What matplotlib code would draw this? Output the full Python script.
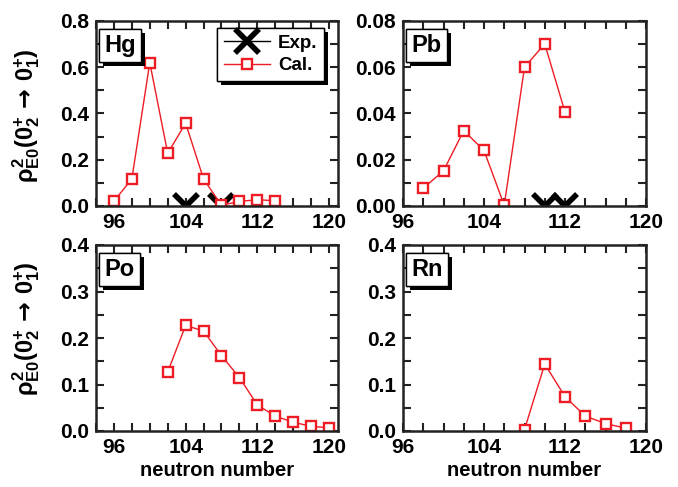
import matplotlib
matplotlib.use("Agg")
import matplotlib.pyplot as plt
from matplotlib import patheffects
from matplotlib.ticker import MultipleLocator, FormatStrFormatter

plt.rcParams['font.family'] = ['Liberation Sans', 'DejaVu Sans']
plt.rcParams['font.weight'] = 'bold'
plt.rcParams['mathtext.fontset'] = 'custom'
plt.rcParams['mathtext.rm'] = 'Liberation Sans:bold'
plt.rcParams['mathtext.it'] = 'Liberation Sans:bold'
plt.rcParams['mathtext.bf'] = 'Liberation Sans:bold'
plt.rcParams['mathtext.sf'] = 'DejaVu Sans'

# Hg
hg_n = [96, 98, 100, 102, 104, 106, 108, 110, 112, 114]
hg_cal = [0.021, 0.117, 0.620, 0.228, 0.358, 0.117, 0.003, 0.020, 0.027, 0.023]
hg_exp_n = [104, 108]
hg_exp = [0.0, 0.0]

# Pb
pb_n = [98, 100, 102, 104, 106, 108, 110, 112]
pb_cal = [0.0077, 0.0152, 0.0326, 0.0240, 0.0003, 0.0600, 0.0701, 0.0406]
pb_exp_n = [110, 112]
pb_exp = [0.0, 0.0]

# Po
po_n = [102, 104, 106, 108, 110, 112, 114, 116, 118, 120]
po_cal = [0.127, 0.227, 0.215, 0.162, 0.115, 0.056, 0.032, 0.019, 0.010, 0.007]

# Rn
rn_n = [108, 110, 112, 114, 116, 118]
rn_cal = [0.003, 0.144, 0.074, 0.032, 0.016, 0.006]

RED = '#ee1c24'
W, H = 678, 487
fig = plt.figure(figsize=(W / 100, H / 100), dpi=100)


def make_axes(x0, x1, y0, y1):
    return fig.add_axes([x0 / W, 1 - y1 / H, (x1 - x0) / W, (y1 - y0) / H])


ax_hg = make_axes(96, 338, 21, 206)
ax_pb = make_axes(403, 646, 21, 206)
ax_po = make_axes(96, 338, 245, 431)
ax_rn = make_axes(403, 646, 245, 431)

panels = [
    (ax_hg, 'Hg', hg_n, hg_cal, (hg_exp_n, hg_exp), (94, 121), 0.8, 0.2, 0.1, '%.1f'),
    (ax_pb, 'Pb', pb_n, pb_cal, (pb_exp_n, pb_exp), (96, 120), 0.08, 0.02, 0.01, '%.2f'),
    (ax_po, 'Po', po_n, po_cal, None, (94, 121), 0.4, 0.1, 0.05, '%.1f'),
    (ax_rn, 'Rn', rn_n, rn_cal, None, (96, 120), 0.4, 0.1, 0.05, '%.1f'),
]

shadow = [patheffects.withSimplePatchShadow(offset=(3, -3), shadow_rgbFace='k', alpha=1.0),
          patheffects.Normal()]

for ax, name, n, cal, exp, xlim, ymax, ymaj, ymin, fmt in panels:
    if exp is not None:
        ax.plot(exp[0], exp[1], color='k', lw=1.0, marker='x', ms=17, mew=4.0,
                label='Exp.', zorder=3)
    ax.plot(n, cal, color=RED, lw=1.0, marker='s', ms=6.8, mfc='white', mec=RED,
            mew=1.7, label='Cal.', zorder=4)
    ax.set_xlim(*xlim)
    ax.set_ylim(0, ymax)
    ax.xaxis.set_major_locator(MultipleLocator(8))
    ax.xaxis.set_minor_locator(MultipleLocator(2))
    ax.yaxis.set_major_locator(MultipleLocator(ymaj))
    ax.yaxis.set_minor_locator(MultipleLocator(ymin))
    ax.yaxis.set_major_formatter(FormatStrFormatter(fmt))
    ax.tick_params(which='both', direction='in', top=True, right=True,
                   width=1.5, color='#222222', labelsize=15)
    ax.tick_params(which='major', length=6, pad=5)
    ax.tick_params(which='minor', length=6)
    for sp in ax.spines.values():
        sp.set_linewidth(1.8)
        sp.set_color('#222222')
        sp.set_zorder(5)
    for lab in ax.get_xticklabels() + ax.get_yticklabels():
        lab.set_fontweight('bold')
    t = ax.text(0.035, 0.93, name, transform=ax.transAxes, fontsize=17,
                fontweight='bold', va='top', ha='left', zorder=6,
                bbox=dict(boxstyle='square,pad=0.22', fc='white', ec='k', lw=1.0))
    t.get_bbox_patch().set_path_effects(shadow)

leg = ax_hg.legend(loc='upper right', bbox_to_anchor=(0.942, 0.962),
                   prop={'weight': 'bold', 'size': 13.5}, frameon=True, fancybox=False,
                   handlelength=2.5, handletextpad=0.4, borderpad=0.35,
                   labelspacing=0.3, borderaxespad=0.0)
frame = leg.get_frame()
frame.set_edgecolor('k')
frame.set_linewidth(1.0)
frame.set_alpha(1.0)
frame.set_path_effects(shadow)
leg.set_zorder(7)

ylab = r'$\rho^{2}_{\mathrm{E0}}(0^{+}_{2}\,\mathsf{\rightarrow}\,0^{+}_{1})$'
ax_hg.set_ylabel(ylab, fontsize=17)
ax_hg.yaxis.set_label_coords(-0.225, 0.49)
ax_po.set_ylabel(ylab, fontsize=17)
ax_po.yaxis.set_label_coords(-0.225, 0.55)

for ax in (ax_po, ax_rn):
    ax.set_xlabel('neutron number', fontsize=14.5, fontweight='bold', labelpad=3)

fig.savefig('out.png', dpi=100)
